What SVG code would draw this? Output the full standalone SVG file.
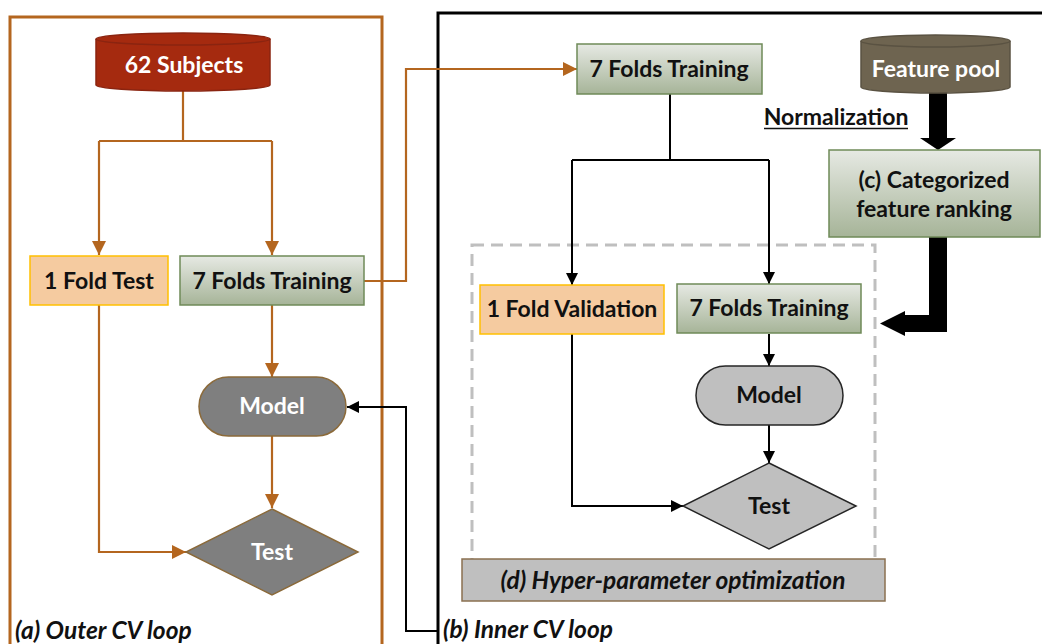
<svg xmlns="http://www.w3.org/2000/svg" width="1042" height="644" viewBox="0 0 1042 644">
<style>
.t{font-family:Lato,"Liberation Sans",sans-serif;font-weight:bold;font-size:23px;text-anchor:middle;fill:#111}
.w{fill:#fff}
.it{font-style:italic;font-size:24.5px}
.br{fill:none;stroke:#b4661f;stroke-width:2.2}
.bk{fill:none;stroke:#000;stroke-width:2}
.green{fill:url(#gg);stroke:#6f8a58;stroke-width:1.5}
.peach{fill:#f5cba0;stroke:#ffc000;stroke-width:1.5}
</style>
<defs>
<linearGradient id="gg" x1="0" y1="0" x2="0" y2="1">
<stop offset="0" stop-color="#e6e9e3"/>
<stop offset="1" stop-color="#a6b498"/>
</linearGradient>
<marker id="ab" markerUnits="userSpaceOnUse" markerWidth="15" markerHeight="14" refX="14" refY="7" orient="auto">
<path d="M0,0 L14,7 L0,14 Z" fill="#b4661f"/>
</marker>
<marker id="ak" markerUnits="userSpaceOnUse" markerWidth="13" markerHeight="12" refX="12" refY="6" orient="auto">
<path d="M0,0 L12,6 L0,12 Z" fill="#000"/>
</marker>
</defs>
<rect width="1042" height="644" fill="#fff"/>

<!-- frames -->
<g id="outer-cv-loop">
<rect x="10" y="17" width="372" height="650" fill="none" stroke="#b4661f" stroke-width="3"/>
<text class="t it" x="15" y="639" style="text-anchor:start">(a) Outer CV loop</text>
</g>
<g id="inner-cv-loop">
<rect x="438" y="13" width="640" height="660" fill="none" stroke="#000" stroke-width="3"/>
<text class="t it" x="443" y="638" style="text-anchor:start">(b) Inner CV loop</text>
</g>
<g id="hyper-region">
<rect x="472" y="245" width="403" height="320" fill="none" stroke="#bfbfbf" stroke-width="3" stroke-dasharray="12 7"/>
</g>

<!-- connectors -->
<g id="connectors">
<path class="br" d="M183,91 V141 M99,141 H272"/>
<path class="br" d="M99,141 V255" marker-end="url(#ab)"/>
<path class="br" d="M272,141 V255" marker-end="url(#ab)"/>
<path class="br" d="M272,305 V377" marker-end="url(#ab)"/>
<path class="br" d="M272,436 V508" marker-end="url(#ab)"/>
<path class="br" d="M99,305 V552 H186" marker-end="url(#ab)"/>
<path class="br" d="M364,281 H406 V69 H577" marker-end="url(#ab)"/>
<path class="bk" d="M438,631 H406 V407 H347" marker-end="url(#ak)"/>
<path class="bk" d="M670,94 V160 M572,160 H769"/>
<path class="bk" d="M572,160 V285" marker-end="url(#ak)"/>
<path class="bk" d="M769,160 V284" marker-end="url(#ak)"/>
<path class="bk" d="M769,334 V366" marker-end="url(#ak)"/>
<path class="bk" d="M769,425 V463" marker-end="url(#ak)"/>
<path class="bk" d="M572,334 V506 H683" marker-end="url(#ak)"/>
<polygon points="929,92 947,92 947,138 956,138 938,150 920,138 929,138" fill="#000"/>
<polygon points="929,237 947,237 947,332 905,332 905,336 880,323.5 905,311 905,315 929,315" fill="#000"/>
</g>

<!-- outer nodes -->
<g id="subjects">
<path d="M96,39 A87,6 0 0 1 270,39 V85 A87,6 0 0 1 96,85 Z" fill="#a52a0f" stroke="#8a2410" stroke-width="1.5"/>
<path d="M96,39 A87,6 0 0 0 270,39" fill="none" stroke="#8a2410" stroke-width="1.5"/>
<text class="t w" x="184" y="73">62 Subjects</text>
</g>
<g id="fold-test">
<rect class="peach" x="30" y="256" width="138" height="49"/>
<text class="t" x="99" y="289">1 Fold Test</text>
</g>
<g id="outer-training">
<rect class="green" x="180" y="256" width="184" height="49"/>
<text class="t" x="272" y="289">7 Folds Training</text>
</g>
<g id="outer-model">
<rect x="199" y="377" width="147" height="59" rx="29.5" fill="#7f7f7f" stroke="#8b6a3a" stroke-width="1.5"/>
<text class="t w" x="272" y="414">Model</text>
</g>
<g id="outer-test">
<polygon points="272,509 358,552 272,595 186,552" fill="#7f7f7f" stroke="#8b6a3a" stroke-width="1.5"/>
<text class="t w" x="272" y="560">Test</text>
</g>

<!-- inner nodes -->
<g id="inner-training-top">
<rect class="green" x="577" y="44" width="185" height="50"/>
<text class="t" x="669" y="77">7 Folds Training</text>
</g>
<g id="feature-pool">
<path d="M861,41 A74.5,6 0 0 1 1010,41 V87 A74.5,6 0 0 1 861,87 Z" fill="#6e6450" stroke="#5a5242" stroke-width="1.5"/>
<path d="M861,41 A74.5,6 0 0 0 1010,41" fill="none" stroke="#5a5242" stroke-width="1.5"/>
<text class="t w" x="936" y="77">Feature pool</text>
</g>
<g id="normalization">
<text class="t" x="836" y="125">Normalization</text>
<line x1="764" y1="128.5" x2="908" y2="128.5" stroke="#111" stroke-width="1.5"/>
</g>
<g id="feature-ranking">
<rect class="green" x="829" y="150" width="211" height="87"/>
<text class="t" x="934" y="188">(c) Categorized</text>
<text class="t" x="934" y="217">feature ranking</text>
</g>
<g id="fold-validation">
<rect class="peach" x="480" y="285" width="184" height="49"/>
<text class="t" x="572" y="317">1 Fold Validation</text>
</g>
<g id="inner-training">
<rect class="green" x="677" y="284" width="184" height="49"/>
<text class="t" x="769" y="316">7 Folds Training</text>
</g>
<g id="inner-model">
<rect x="696" y="366" width="147" height="59" rx="29.5" fill="#bfbfbf" stroke="#262626" stroke-width="1.5"/>
<text class="t" x="769" y="403">Model</text>
</g>
<g id="inner-test">
<polygon points="769,463 856,506 769,549 683,506" fill="#bfbfbf" stroke="#262626" stroke-width="1.5"/>
<text class="t" x="769" y="514">Test</text>
</g>
<g id="hyper-parameter">
<rect x="462" y="559" width="423" height="42" fill="#bfbfbf" stroke="#8b7050" stroke-width="1.5"/>
<text class="t it" x="673" y="589">(d) Hyper-parameter optimization</text>
</g>
</svg>
